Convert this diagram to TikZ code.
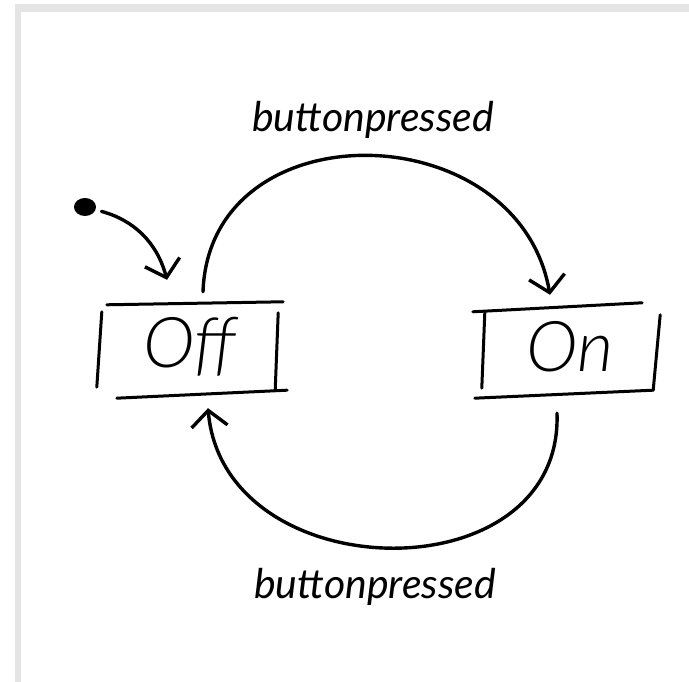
\documentclass[tikz,border=0pt]{standalone}
\usepackage{fontspec}
\usepackage{tikz}
\usetikzlibrary{arrows.meta, positioning, shapes.geometric, calc}
\newfontfamily\handfont{Lato Light Italic}
\newfontfamily\labelfont{Lato Italic}
\definecolor{framegray}{HTML}{E4E4E4}

\begin{document}
\begin{tikzpicture}[
    x=1pt, y=1pt,
    state/.style={minimum width=180pt, minimum height=90pt, inner sep=0pt, font=\handfont\fontsize{70}{80}\selectfont},
    stroke/.style={line width=3pt, line cap=round},
    arr/.style={-{Straight Barb[length=16pt, width=36pt]}, line width=3.4pt, line cap=round},
    lbl/.style={font=\labelfont\fontsize{41}{48}\selectfont}
]
    \useasboundingbox (0,0) rectangle (689,682);
    % page frame
    \fill[framegray] (15,670) rectangle (689,678);
    \fill[framegray] (15,0) rectangle (21,678);

    \node[state] (off) at (190,335) {Off};
    \node[state] (on) at (570,335) {On};
    \node[ellipse, fill=black, inner sep=0pt, minimum width=22pt, minimum height=18pt] (init) at (85,475) {};

    % sketched boxes
    \draw[stroke] ($(off.north west)+(7,-3)$) -- ($(off.north east)+(3,0)$);
    \draw[stroke] ($(off.north west)+(2,-10)$) -- ($(off.south west)+(-3,5)$);
    \draw[stroke] ($(off.north east)+(-2,-11)$) -- ($(off.south east)+(-5,2)$);
    \draw[stroke] ($(off.south west)+(17,-6)$) -- ($(off.south east)+(7,2)$);
    \draw[stroke] ($(on.north west)+(-7,-10)$) -- ($(on.north east)+(-18,-1)$);
    \draw[stroke] ($(on.north west)+(5,-11)$) -- ($(on.south west)+(2,4)$);
    \draw[stroke] ($(on.north east)+(0,-13)$) -- ($(on.south east)+(-7,2)$);
    \draw[stroke] ($(on.south west)+(-5,-6)$) -- ($(on.south east)+(-7,2)$);

    % transitions
    \draw[arr, shorten <=6pt] (init) to[out=-15, in=105] ([xshift=-23, yshift=22]off.north);
    \draw[arr] ([xshift=13, yshift=10]off.north) to[out=88, in=100, looseness=1.36] ([xshift=-20, yshift=7]on.north);
    \draw[arr] ([xshift=-13, yshift=-21]on.south) to[out=-88, in=-85, looseness=1.34] ([xshift=18, yshift=-16]off.south);

    \node[lbl] (lblon) at (373,562) {buttonpressed};
    \node[lbl] (lbloff) at (375,95) {buttonpressed};
\end{tikzpicture}
\end{document}
